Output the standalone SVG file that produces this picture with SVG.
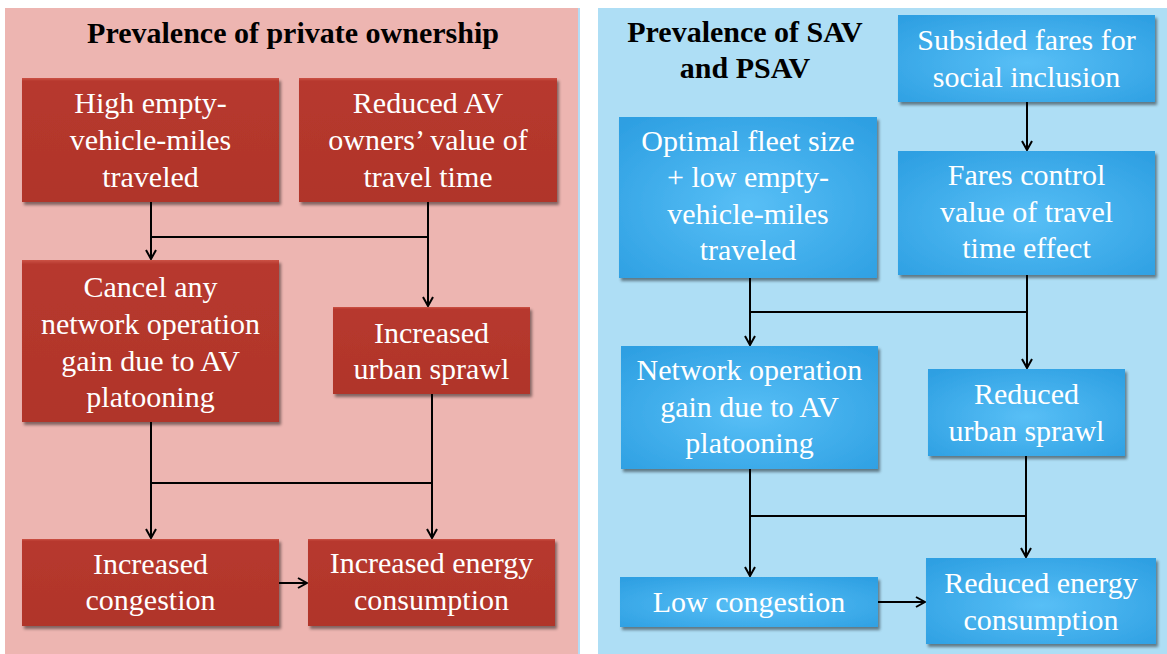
<svg xmlns="http://www.w3.org/2000/svg" width="1167" height="654" viewBox="0 0 1167 654">
<style>
.t{font-family:"Liberation Serif","Times New Roman",serif;font-size:30px;fill:#fff;text-anchor:middle}
.h{font-family:"Liberation Serif","Times New Roman",serif;font-size:30px;font-weight:bold;fill:#000;text-anchor:middle}
.red{fill:url(#gr);filter:url(#sh)}
.blue{fill:url(#gb);filter:url(#sh)}
.c{fill:none;stroke:#000;stroke-width:2}
.a{marker-end:url(#arr)}
</style>
<defs>
<linearGradient id="gr" x1="0" y1="0" x2="0" y2="1">
<stop offset="0" stop-color="#cc5246"/>
<stop offset="0.025" stop-color="#b7392e"/>
<stop offset="1" stop-color="#b0342a"/>
</linearGradient>
<radialGradient id="gb" cx="0.5" cy="0.55" r="0.7">
<stop offset="0" stop-color="#58bff6"/>
<stop offset="1" stop-color="#2d9fe2"/>
</radialGradient>
<filter id="sh" x="-10%" y="-10%" width="125%" height="130%">
<feDropShadow dx="2" dy="3" stdDeviation="1.8" flood-color="#000" flood-opacity="0.45"/>
</filter>
<marker id="arr" viewBox="0 0 12 12" refX="11" refY="6" markerWidth="12" markerHeight="12" markerUnits="userSpaceOnUse" orient="auto">
<path d="M2,1 L11,6 L2,11" fill="none" stroke="#000" stroke-width="2"/>
</marker>
</defs>

<g id="panels">
<rect x="5" y="8" width="573" height="646" fill="#edb5b1"/>
<rect x="578" y="8" width="2" height="646" fill="#b4dcf5"/>
<rect x="598" y="8" width="569" height="646" fill="#aedef5"/>
<text class="h" x="293" y="43">Prevalence of private ownership</text>
<text class="h" x="745" y="42">Prevalence of SAV</text>
<text class="h" x="745" y="78">and PSAV</text>
</g>

<g id="connectors">
<path class="c a" d="M151,202 V259"/>
<path class="c" d="M151,237 H428"/>
<path class="c a" d="M428,202 V306"/>
<path class="c a" d="M151,422 V538"/>
<path class="c" d="M151,483 H432"/>
<path class="c a" d="M432,394 V538"/>
<path class="c a" d="M279,583 H307"/>
<path class="c a" d="M1027,102 V150"/>
<path class="c a" d="M750,278 V345"/>
<path class="c" d="M750,312 H1027"/>
<path class="c a" d="M1027,275 V368"/>
<path class="c a" d="M750,469 V576"/>
<path class="c" d="M750,516 H1026"/>
<path class="c a" d="M1026,456 V557"/>
<path class="c a" d="M878,602 H925"/>
</g>

<g id="nodeA">
<rect class="red" x="22" y="78" width="257" height="124"/>
<text class="t" x="150.5" y="113">High empty-</text>
<text class="t" x="150.5" y="150">vehicle-miles</text>
<text class="t" x="150.5" y="187">traveled</text>
</g>
<g id="nodeB">
<rect class="red" x="299" y="78" width="258" height="124"/>
<text class="t" x="428" y="113">Reduced AV</text>
<text class="t" x="428" y="150">owners’ value of</text>
<text class="t" x="428" y="187">travel time</text>
</g>
<g id="nodeC">
<rect class="red" x="22" y="260" width="257" height="162"/>
<text class="t" x="150.5" y="297">Cancel any</text>
<text class="t" x="150.5" y="334">network operation</text>
<text class="t" x="150.5" y="371">gain due to AV</text>
<text class="t" x="150.5" y="407">platooning</text>
</g>
<g id="nodeD">
<rect class="red" x="333" y="307" width="197" height="87"/>
<text class="t" x="431.5" y="343">Increased</text>
<text class="t" x="431.5" y="379">urban sprawl</text>
</g>
<g id="nodeE">
<rect class="red" x="22" y="539" width="257" height="87"/>
<text class="t" x="150.5" y="574">Increased</text>
<text class="t" x="150.5" y="610">congestion</text>
</g>
<g id="nodeF">
<rect class="red" x="308" y="539" width="247" height="87"/>
<text class="t" x="431.5" y="573">Increased energy</text>
<text class="t" x="431.5" y="610">consumption</text>
</g>

<g id="nodeG">
<rect class="blue" x="898" y="15" width="257" height="87"/>
<text class="t" x="1026.5" y="50">Subsided fares for</text>
<text class="t" x="1026.5" y="87">social inclusion</text>
</g>
<g id="nodeH">
<rect class="blue" x="619" y="117" width="258" height="161"/>
<text class="t" x="748" y="151">Optimal fleet size</text>
<text class="t" x="748" y="187">+ low empty-</text>
<text class="t" x="748" y="224">vehicle-miles</text>
<text class="t" x="748" y="260">traveled</text>
</g>
<g id="nodeI">
<rect class="blue" x="898" y="151" width="257" height="124"/>
<text class="t" x="1026.5" y="185">Fares control</text>
<text class="t" x="1026.5" y="222">value of travel</text>
<text class="t" x="1026.5" y="258">time effect</text>
</g>
<g id="nodeJ">
<rect class="blue" x="621" y="346" width="257" height="123"/>
<text class="t" x="749.5" y="380">Network operation</text>
<text class="t" x="749.5" y="417">gain due to AV</text>
<text class="t" x="749.5" y="453">platooning</text>
</g>
<g id="nodeK">
<rect class="blue" x="928" y="369" width="197" height="87"/>
<text class="t" x="1026.5" y="404">Reduced</text>
<text class="t" x="1026.5" y="441">urban sprawl</text>
</g>
<g id="nodeL">
<rect class="blue" x="620" y="577" width="258" height="50"/>
<text class="t" x="749" y="612">Low congestion</text>
</g>
<g id="nodeM">
<rect class="blue" x="926" y="558" width="230" height="86"/>
<text class="t" x="1041" y="593">Reduced energy</text>
<text class="t" x="1041" y="630">consumption</text>
</g>
</svg>
